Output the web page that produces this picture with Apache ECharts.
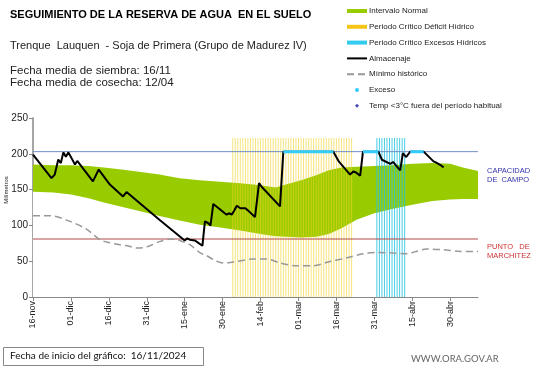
<!DOCTYPE html>
<html><head><meta charset="utf-8">
<script src="https://cdn.jsdelivr.net/npm/echarts@6/dist/echarts.min.js"></script>
<style>html,body{margin:0;padding:0;background:#fff}#c{width:541px;height:368px}</style>
</head><body><div id="c"></div>
<script>
// x values are days since 16-nov-2024
const tickLabels = ['16-nov','01-dic','16-dic','31-dic','15-ene','30-ene','14-feb','01-mar','16-mar','31-mar','15-abr','30-abr'];
const xMax = 176;
const capacidadCampo = 203;
const puntoMarchitez = 81;

const normalDays  = [0,   8,   15,  22,  28,  35,  42,  50,  58,  66,  74,  82,  90,  96,  100, 106, 112, 117, 122, 128, 135, 142, 150, 158, 165, 170, 176];
const normalUpper = [185, 184, 184, 183, 181, 178, 175, 171, 166, 163, 161, 159, 156, 153, 157, 163, 170, 177, 181, 182, 183, 184, 186, 187, 186, 181, 176];
const normalLower = [147, 146, 143, 138, 132, 126, 120, 113, 107, 101, 97,  93,  88,  85,  84,  83,  84,  88,  96,  108, 117, 123, 129, 134, 136, 137, 137];

const almacenaje = [[0,199],[7.3,166],[8.6,171],[10,192],[11,187],[12,202],[13,196],[14,202],[16.6,185],[17.5,190],[23.7,161.5],[26,178],[30.4,157],[35.6,140.5],[37,146.6],[50,108],[60,79],[61,82],[62,80],[64,79],[67,71.5],[68,105.6],[69.4,103],[70.2,99.6],[71.3,130],[76.6,115],[77.5,117],[78.6,115],[79.5,120],[80.6,127.5],[82,124],[84,124],[85,121],[87.8,111.7],[89.4,159],[90.5,153.6],[97.7,126.5],[99,203],[118.8,203],[121,189],[125.4,171],[126.7,175.4],[127.7,174],[129.4,169.4],[130.5,203],[136.6,203],[138,191.7],[141.3,186],[142.4,188.6],[145.2,176.8],[146.3,201],[147.6,195.5],[149.2,203],[154.5,203],[158.4,189.4],[159.5,187.6],[161,184.7],[162.4,181]];

const minimoHistorico = [[0,113.5],[7,113.5],[14.6,105.6],[21,95],[26.5,80],[30,76],[34.4,73],[38,71],[41,68.4],[45,70],[50.3,77.7],[55,81],[58,79],[62,73],[66,62],[68.7,57.7],[72,51],[75.3,47.5],[78,48.3],[81,50],[87,53],[92.5,53],[97.7,47.4],[104,43.7],[111,43.7],[117.5,49.7],[124,54.5],[130.6,60.5],[136,62.3],[142.5,61.4],[147.8,60.5],[151,63],[155.6,67],[162.3,66],[169,63.7],[176,63.7]];

const excesoPeriods = [[99,118.8],[130.5,136.6],[149.2,154.5]];
const deficitPeriod = [79, 126];
const excesoHidricoPeriod = [136, 147];
const periodTop = 222;

function dailyBars(p){ const out=[]; for(let d=p[0]; d<=p[1]; d++) out.push([d, periodTop]); return out; }
const excesoData = [];
excesoPeriods.forEach(p => { excesoData.push([p[0], capacidadCampo]); excesoData.push([p[1], capacidadCampo]); excesoData.push([p[1]+0.01, null]); });

const chart = echarts.init(document.getElementById('c'), null, {renderer:'canvas'});
const FF = 'Liberation Sans, Arial, sans-serif';
const noSym = {color:'rgba(0,0,0,0)', borderWidth:0};
chart.setOption({
  animation:false,
  backgroundColor:'#fff',
  textStyle:{fontFamily:FF},
  grid:{left:33, right:63, top:118, bottom:71},
  legend:{
    orient:'vertical', left:341, top:1, itemWidth:20, itemHeight:4, itemGap:5.8,
    textStyle:{fontSize:8, color:'#222', lineHeight:10, fontFamily:FF, padding:[0,0,0,-3]},
    selectedMode:false, symbolKeepAspect:true,
    data:[
      {name:'Intervalo Normal', icon:'rect', itemStyle:{color:'#99cc00', opacity:1}},
      {name:'Periodo Crítico Déficit Hídrico', icon:'rect', itemStyle:{color:'#f5c518', opacity:1}},
      {name:'Periodo Crítico Excesos Hídricos', icon:'rect', itemStyle:{color:'#33ccee', opacity:1}},
      {name:'Almacenaje', itemStyle:noSym},
      {name:'Mínimo histórico', itemStyle:noSym},
      {name:'Exceso', icon:'circle'},
      {name:'Temp <3°C fuera del período habitual', icon:'path://M5,0L10,5L5,10L0,5Z'}
    ]
  },
  xAxis:{
    type:'value', min:0, max:xMax, interval:15,
    axisLine:{lineStyle:{color:'#888', width:1}},
    axisTick:{show:true, length:4, lineStyle:{color:'#888'}},
    splitLine:{show:false},
    axisLabel:{rotate:90, fontSize:9, color:'#222', margin:4, showMaxLabel:false,
      formatter: v => tickLabels[Math.round(v/15)] || ''}
  },
  yAxis:{
    type:'value', min:0, max:250, interval:50,
    axisLine:{show:true, lineStyle:{color:'#888', width:1.5}},
    axisTick:{show:true, length:4, lineStyle:{color:'#888'}},
    splitLine:{show:false},
    axisLabel:{fontSize:10, color:'#222', margin:5}
  },
  series:[
    {name:'Intervalo Normal', type:'line', z:1, symbol:'none', lineStyle:{width:0, opacity:0},
      itemStyle:{color:'#99cc00'}, areaStyle:{color:'#99cc00', opacity:1},
      data: normalDays.map((d,i)=>[d, normalUpper[i]])},
    {name:'base', type:'line', z:1, symbol:'none', silent:true, lineStyle:{width:0, opacity:0},
      areaStyle:{color:'#ffffff', opacity:1},
      data: normalDays.map((d,i)=>[d, normalLower[i]])},
    {name:'Periodo Crítico Déficit Hídrico', type:'bar', z:2, barWidth:1, barGap:'-100%',
      itemStyle:{color:'rgba(240,210,40,0.6)'}, data: dailyBars(deficitPeriod)},
    {name:'Periodo Crítico Excesos Hídricos', type:'bar', z:2, barWidth:1, barGap:'-100%',
      itemStyle:{color:'rgba(40,195,225,0.85)'}, data: dailyBars(excesoHidricoPeriod)},
    {name:'cap', type:'line', z:3, symbol:'none', silent:true, lineStyle:{color:'#6f8fc8', width:1},
      data:[[0,capacidadCampo],[xMax,capacidadCampo]]},
    {name:'pm', type:'line', z:3, symbol:'none', silent:true, lineStyle:{color:'#b04848', width:1},
      data:[[0,puntoMarchitez],[xMax,puntoMarchitez]]},
    {name:'Mínimo histórico', type:'line', z:3, symbol:'none', smooth:0.3,
      itemStyle:{color:'#999'}, lineStyle:{color:'#999', width:1.5, type:[7,4]}, data:minimoHistorico},
    {name:'Almacenaje', type:'line', z:4, symbol:'none',
      itemStyle:{color:'#000'}, lineStyle:{color:'#000', width:2}, data:almacenaje},
    {name:'Exceso', type:'line', z:5, symbol:'none', connectNulls:false,
      itemStyle:{color:'#33ccff'}, lineStyle:{color:'#33ccff', width:3}, data:excesoData},
    {name:'Temp <3°C fuera del período habitual', type:'scatter', z:5, symbol:'diamond', symbolSize:5,
      itemStyle:{color:'#1a1aa0'}, data:[]}
  ],
  graphic:[
    {type:'text', left:10, top:9, style:{text:'SEGUIMIENTO DE LA RESERVA DE AGUA  EN EL SUELO', font:'bold 11px '+FF, fill:'#000'}},
    {type:'text', left:10, top:40, style:{text:'Trenque  Lauquen  - Soja de Primera (Grupo de Madurez IV)', font:'11px '+FF, fill:'#222'}},
    {type:'text', left:10, top:65, style:{text:'Fecha media de siembra: 16/11', font:'11.5px '+FF, fill:'#222'}},
    {type:'text', left:10, top:77, style:{text:'Fecha media de cosecha: 12/04', font:'11.5px '+FF, fill:'#222'}},
    {type:'text', x:6, y:190, rotation:Math.PI/2, style:{text:'Milímetros', font:'6px '+FF, fill:'#222', align:'center', verticalAlign:'middle'}},
    {type:'text', left:487, top:166, style:{text:'CAPACIDAD\nDE  CAMPO', font:'7.5px '+FF, fill:'#3333aa', lineHeight:9.5}},
    {type:'text', left:487, top:242, style:{text:'PUNTO   DE\nMARCHITEZ', font:'7.5px '+FF, fill:'#cc3333', lineHeight:9.5}},
    {type:'rect', shape:{x:3.5, y:347.5, width:200, height:18}, style:{fill:'#fff', stroke:'#888', lineWidth:1}},
    {type:'text', left:10, top:350.5, style:{text:'Fecha de inicio del gráfico:  16/11/2024', font:'10px Lato, sans-serif', fill:'#111'}},
    {type:'text', left:411, top:354, style:{text:'WWW.ORA.GOV.AR', font:'9.5px Lato, sans-serif', fill:'#666'}}
  ]
});
</script></body></html>
